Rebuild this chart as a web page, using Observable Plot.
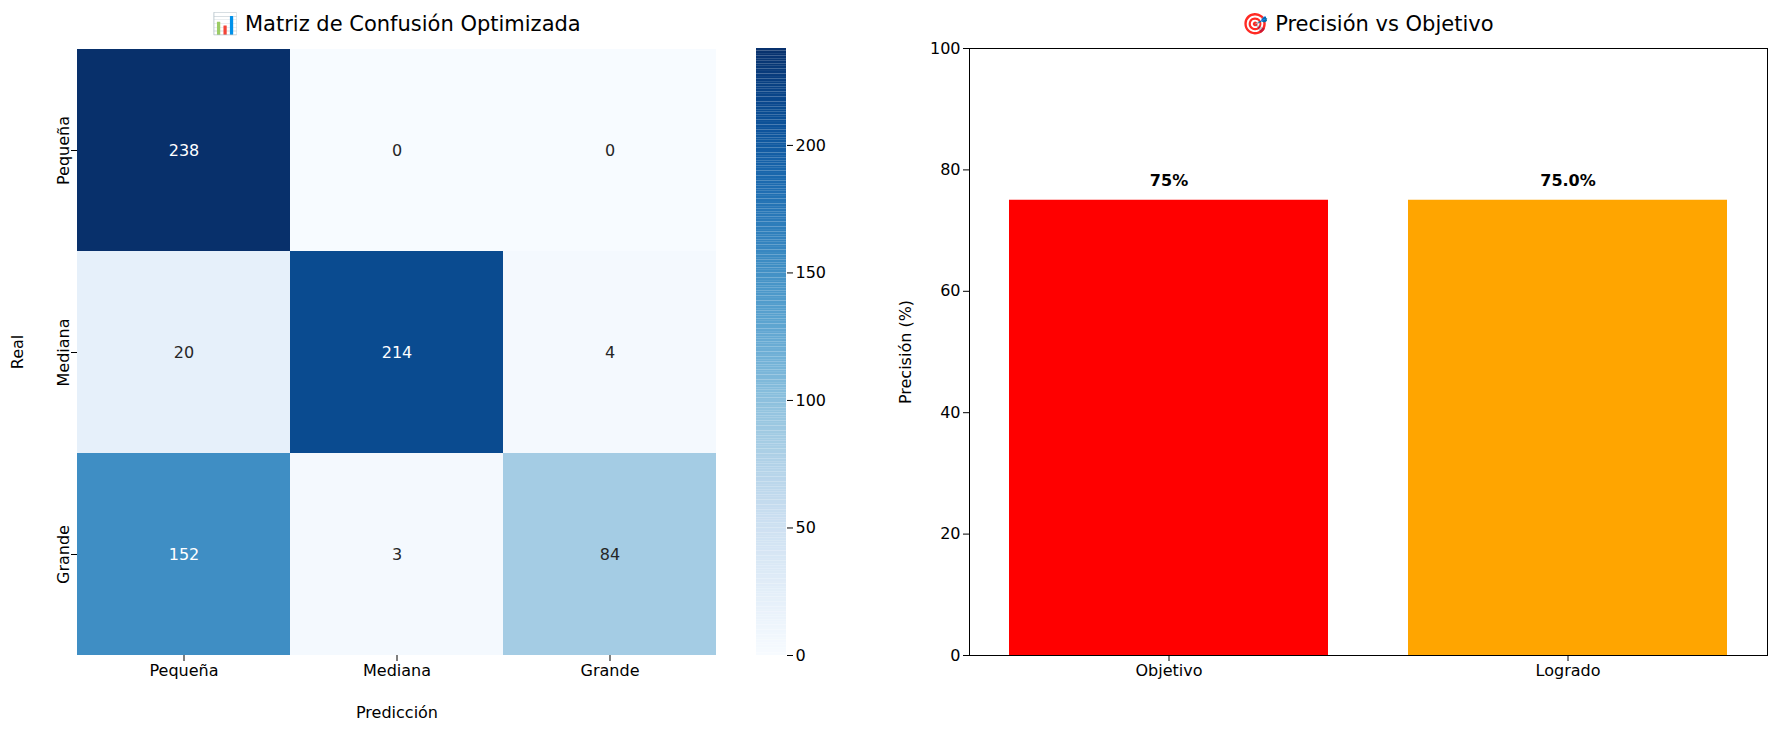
<!DOCTYPE html>
<html>
<head>
<meta charset="utf-8">
<script src="https://cdn.jsdelivr.net/npm/d3@7"></script>
<script src="https://cdn.jsdelivr.net/npm/@observablehq/plot@0.6"></script>
<style>
  body { margin: 0; background: #fff; font-family: "DejaVu Sans", sans-serif; }
  #wrap { position: relative; width: 1783px; height: 734px; }
  .pane { position: absolute; top: 0; }
  .title { position: absolute; top: 12px; font-size: 21px; text-align: center; }
</style>
</head>
<body>
<div id="wrap">
  <div class="title" style="left:77px;width:639px">📊 Matriz de Confusión Optimizada</div>
  <div class="title" style="left:969px;width:798px">🎯 Precisión vs Objetivo</div>
  <div class="pane" id="heat" style="left:0"></div>
  <div class="pane" id="cbar" style="left:700px"></div>
  <div class="pane" id="bars" style="left:880px"></div>
</div>
<script>
const clases = ["Pequeña", "Mediana", "Grande"];
const matriz = [
  [238, 0, 0],
  [20, 214, 4],
  [152, 3, 84]
];
const barCats = ["Objetivo", "Logrado"];
const barVals = [75, 75.0];
const barLabels = ["75%", "75.0%"];
const barColors = ["red", "orange"];
const cbarTicks = [0, 50, 100, 150, 200];

const cells = [];
matriz.forEach((row, i) => row.forEach((v, j) => cells.push({real: clases[i], pred: clases[j], v})));
const vmax = d3.max(cells, d => d.v);
const style = {fontFamily: "DejaVu Sans", fontSize: "16px", color: "#000"};

const heat = Plot.plot({
  width: 720, height: 734,
  marginLeft: 77, marginRight: 4, marginTop: 48, marginBottom: 79,
  style,
  x: {domain: clases, label: "Predicción", labelAnchor: "center", labelArrow: "none", padding: 0, tickSize: 6, labelOffset: 62},
  y: {domain: clases, label: "Real", labelAnchor: "center", labelArrow: "none", padding: 0, tickRotate: -90, tickSize: 6, labelOffset: 66},
  color: {type: "linear", scheme: "blues", domain: [0, vmax]},
  marks: [
    Plot.cell(cells, {x: "pred", y: "real", fill: "v", inset: 0}),
    Plot.text(cells, {x: "pred", y: "real", text: d => String(d.v), fontSize: 16,
      fill: d => d.v > vmax / 2 ? "white" : "#262626"})
  ]
});
document.getElementById("heat").append(heat);

const grad = d3.range(0, vmax + 1);
const cbar = Plot.plot({
  width: 160, height: 734,
  marginLeft: 56, marginRight: 74, marginTop: 48, marginBottom: 79,
  style,
  x: {axis: null, domain: [0, 1]},
  y: {domain: [0, vmax], axis: "right", ticks: cbarTicks, label: null, tickSize: 6},
  color: {type: "linear", scheme: "blues", domain: [0, vmax]},
  marks: [
    Plot.rect(grad, {x1: 0, x2: 1, y1: d => d, y2: d => Math.min(d + 1, vmax), fill: d => d})
  ]
});
document.getElementById("cbar").append(cbar);

const barData = barCats.map((c, i) => ({c, v: barVals[i], lab: barLabels[i], col: barColors[i]}));
const bars = Plot.plot({
  width: 903, height: 734,
  marginLeft: 89, marginRight: 16, marginTop: 48, marginBottom: 79,
  style,
  x: {domain: barCats, label: null, paddingInner: 0.2, paddingOuter: 0.1, tickSize: 6},
  y: {domain: [0, 100], ticks: [0, 20, 40, 60, 80, 100], label: "Precisión (%)", labelAnchor: "center", labelArrow: "none", tickSize: 6, labelOffset: 70},
  marks: [
    Plot.barY(barData, {x: "c", y: "v", fill: d => d.col}),
    Plot.text(barData, {x: "c", y: "v", text: "lab", dy: -19, fontWeight: "bold", fontSize: 16, fill: "black"}),
    Plot.frame({stroke: "black"})
  ]
});
document.getElementById("bars").append(bars);
</script>
</body>
</html>
